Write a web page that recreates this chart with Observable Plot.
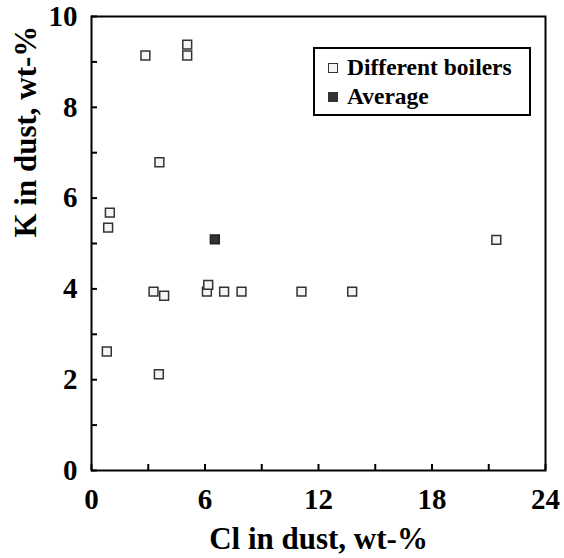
<!DOCTYPE html>
<html>
<head>
<meta charset="utf-8">
<script src="https://cdn.jsdelivr.net/npm/d3@7"></script>
<script src="https://cdn.jsdelivr.net/npm/@observablehq/plot@0.6"></script>
<style>
  html, body { margin: 0; padding: 0; background: #fff; }
  #wrap { position: relative; width: 564px; height: 558px; font-family: "Liberation Serif", "Times New Roman", serif; }
  #wrap svg text { font-weight: bold; font-family: "Liberation Serif", "Times New Roman", serif; }
  #legend { position: absolute; left: 313px; top: 47px; width: 214px; height: 65px; border: 2px solid #000; background: #fff; font-weight: bold; font-size: 23.5px; font-family: "Liberation Serif", "Times New Roman", serif; color: #000; }
  .row { position: absolute; left: 13px; display: flex; align-items: center; white-space: nowrap; line-height: 1; }
  .sw { width: 8px; height: 8px; border: 1px solid #333; margin-right: 9px; }
</style>
</head>
<body>
<div id="wrap"></div>
<script>
// Data
const boilerCl = [0.81, 0.88, 0.97, 2.85, 5.06, 5.06, 3.59, 3.28, 3.84, 3.56, 6.10, 6.17, 7.01, 7.93, 11.1, 13.78, 21.4];
const boilerK  = [2.62, 5.35, 5.68, 9.14, 9.38, 9.14, 6.79, 3.94, 3.85, 2.12, 3.94, 4.09, 3.94, 3.94, 3.94, 3.94, 5.08];
const avgCl = [6.52];
const avgK = [5.09];
const xTickLabels = [0, 6, 12, 18, 24];
const xTicksAll = [0, 3, 6, 9, 12, 15, 18, 21, 24];
const yTickLabels = [0, 2, 4, 6, 8, 10];
const yTicksAll = [0, 1, 2, 3, 4, 5, 6, 7, 8, 9, 10];
const seriesNames = ["Different boilers", "Average"];
const seriesFill = ["#f5f5f5", "#333333"];
const xTitle = "Cl in dust, wt-%";
const yTitle = "K in dust, wt-%";

const boilers = boilerCl.map((c, i) => ({cl: c, k: boilerK[i]}));
const avg = avgCl.map((c, i) => ({cl: c, k: avgK[i]}));

const W = 564, H = 558, mL = 91, mR = 19, mT = 16, mB = 88;
const plotW = W - mL - mR, plotH = H - mT - mB;
const font = "Liberation Serif, Times New Roman, serif";

const chart = Plot.plot({
  width: W, height: H,
  marginLeft: mL, marginRight: mR, marginTop: mT, marginBottom: mB,
  style: {fontFamily: font, background: "#fff", color: "#000"},
  x: {domain: [0, 24]},
  y: {domain: [0, 10]},
  marks: [
    Plot.tickX(xTicksAll, {x: d => d, insetTop: plotH - 6, stroke: "#000", strokeWidth: 2}),
    Plot.tickY(yTicksAll, {y: d => d, insetRight: plotW - 6, stroke: "#000", strokeWidth: 2}),
    Plot.axisX({ticks: xTickLabels, tickSize: 0, tickPadding: 18, fontSize: 29, fontWeight: "bold", label: null}),
    Plot.axisY({ticks: yTickLabels, tickSize: 0, tickPadding: 14, fontSize: 29, fontWeight: "bold", label: null}),
    Plot.frame({stroke: "#000", strokeWidth: 2}),
    Plot.dot(boilers, {x: "cl", y: "k", symbol: "square", r: 5, fill: seriesFill[0], stroke: "#333", strokeWidth: 1.5}),
    Plot.dot(avg, {x: "cl", y: "k", symbol: "square", r: 5, fill: seriesFill[1], stroke: "#222", strokeWidth: 1.5}),
    Plot.text([xTitle], {frameAnchor: "bottom", dy: 78, fontSize: 31, fontWeight: "bold", fill: "#000"}),
    Plot.text([yTitle], {frameAnchor: "left", rotate: -90, dx: -65, dy: -6, fontSize: 31, fontWeight: "bold", fill: "#000"})
  ]
});

d3.select(chart).selectAll("text")
  .attr("font-family", "Liberation Serif")
  .attr("font-weight", "bold")
  .attr("fill", "#000");

const wrap = document.getElementById("wrap");
wrap.appendChild(chart);

const legend = document.createElement("div");
legend.id = "legend";
seriesNames.forEach((name, i) => {
  const row = document.createElement("div");
  row.className = "row";
  row.style.top = (i === 0 ? 7 : 36) + "px";
  const sw = document.createElement("span");
  sw.className = "sw";
  sw.style.background = seriesFill[i];
  const t = document.createElement("span");
  t.textContent = name;
  row.appendChild(sw);
  row.appendChild(t);
  legend.appendChild(row);
});
wrap.appendChild(legend);
</script>
</body>
</html>
